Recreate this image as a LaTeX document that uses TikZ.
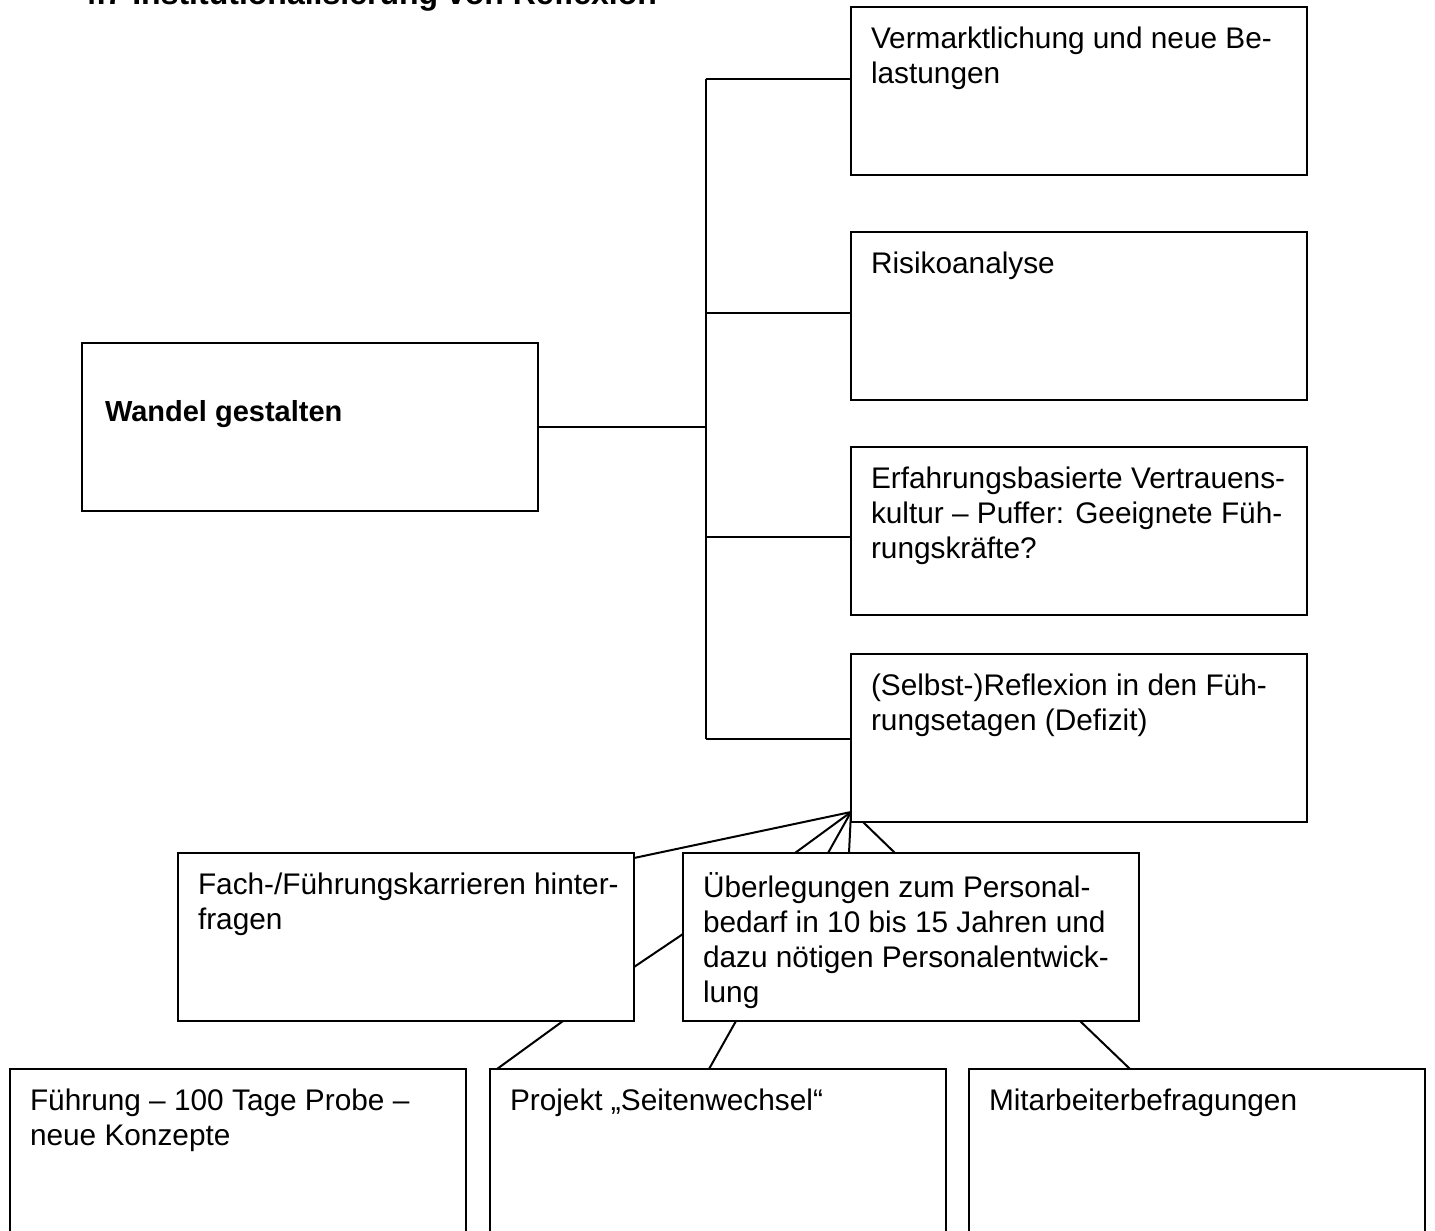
\documentclass[tikz,border=0pt]{standalone}
\usepackage{fontspec}
\setmainfont{Liberation Sans}
\begin{document}
\begin{tikzpicture}[
  x = 1pt,
  y = -1pt,
  line width = 2pt,
  box/.style = {
    draw,
    anchor = north west,
    minimum width = 456pt,
    minimum height = 168pt,
    inner sep = 0pt,
    outer sep = 0pt,
  },
  txt/.style = {
    anchor = north west,
    align = left,
    inner sep = 0pt,
    font = \fontsize{29.8}{35}\selectfont,
  }
]
  \useasboundingbox (0, 0) rectangle (1435, 1231);
  \clip (0, 0) rectangle (1435, 1231);

  \node[anchor = base west, inner sep = 0pt, font = \bfseries\fontsize{32}{36}\selectfont] (title) at (78, 5) {4.7 Institutionalisierung von Reflexion};

  % right column
  \draw node[box] (B1) at (851, 7) {};
  \draw node[box] (B2) at (851, 232) {};
  \draw node[box] (B3) at (851, 447) {};
  \draw node[box] (B4) at (851, 654) {};
  \node[txt] (B1t) at ([shift = {(19, 19)}] B1.north west) {Vermarktlichung und neue Be-\\lastungen};
  \node[txt] (B2t) at ([shift = {(19, 19)}] B2.north west) {Risikoanalyse};
  \node[txt] (B3t) at ([shift = {(19, 19)}] B3.north west) {Erfahrungsbasierte Vertrauens-\\kultur – Puffer: Geeignete Füh-\\rungskräfte?};
  \node[txt] (B4t) at ([shift = {(19, 19)}] B4.north west) {(Selbst-)Reflexion in den Füh-\\rungsetagen (Defizit)};

  % root
  \draw node[box] (W) at (82, 343) {};
  \node[txt, font = \bfseries\fontsize{29}{34}\selectfont] (Wt) at ([shift = {(22, 56)}] W.north west) {Wandel gestalten};

  % middle row
  \draw node[box] (K) at (178, 853) {};
  \draw node[box] (U) at (683, 853) {};
  \node[txt] (Kt) at ([shift = {(19, 19)}] K.north west) {Fach-/Führungskarrieren hinter-\\fragen};
  \node[txt] (Ut) at ([shift = {(19, 19)}] U.north west) {Überlegungen zum Personal-\\bedarf in 10 bis 15 Jahren und\\dazu nötigen Personalentwick-\\lung};

  % bottom row
  \draw node[box, minimum height = 220pt] (F1) at (10, 1069) {};
  \draw node[box, minimum height = 220pt] (F2) at (490, 1069) {};
  \draw node[box, minimum height = 220pt] (F3) at (969, 1069) {};
  \node[txt] (F1t) at ([shift = {(19, 19)}] F1.north west) {Führung – 100 Tage Probe –\\neue Konzepte};
  \node[txt] (F2t) at ([shift = {(19, 19)}] F2.north west) {Projekt „Seitenwechsel“};
  \node[txt] (F3t) at ([shift = {(19, 19)}] F3.north west) {Mitarbeiterbefragungen};

  % tree connectors
  \coordinate (T1) at (706, 79);
  \coordinate (T2) at (706, 313);
  \coordinate (T3) at (706, 537);
  \coordinate (T4) at (706, 739);
  \draw (T1) -- (T4);
  \draw (T1) -- (T1 -| B1.west);
  \draw (T2) -- (T2 -| B2.west);
  \draw (T3) -- (T3 -| B3.west);
  \draw (T4) -- (T4 -| B4.west);
  \draw (W.east) -- (W.east -| T1);

  % fan below the reflexion box
  \coordinate (C) at ([shift = {(0, -10)}] B4.south west);
  \draw (C) -- ([shift = {(0, 5)}] K.north east);
  \draw (C) -- ([shift = {(112, 0)}] U.north west);
  \draw (C) -- ([shift = {(145, 0)}] U.north west);
  \draw (C) -- ([shift = {(166, 0)}] U.north west);
  \draw ([shift = {(12, 0)}] B4.south west) -- ([shift = {(212, 0)}] U.north west);
  \draw ([shift = {(0, 114)}] K.north east) -- ([shift = {(0, 81)}] U.north west);

  % lower links
  \draw ([shift = {(385, 0)}] K.south west) -- ([shift = {(7, 0)}] F2.north west);
  \draw ([shift = {(53, 0)}] U.south west) -- ([shift = {(219, 0)}] F2.north west);
  \draw ([shift = {(397, 0)}] U.south west) -- ([shift = {(161, 0)}] F3.north west);
\end{tikzpicture}
\end{document}
